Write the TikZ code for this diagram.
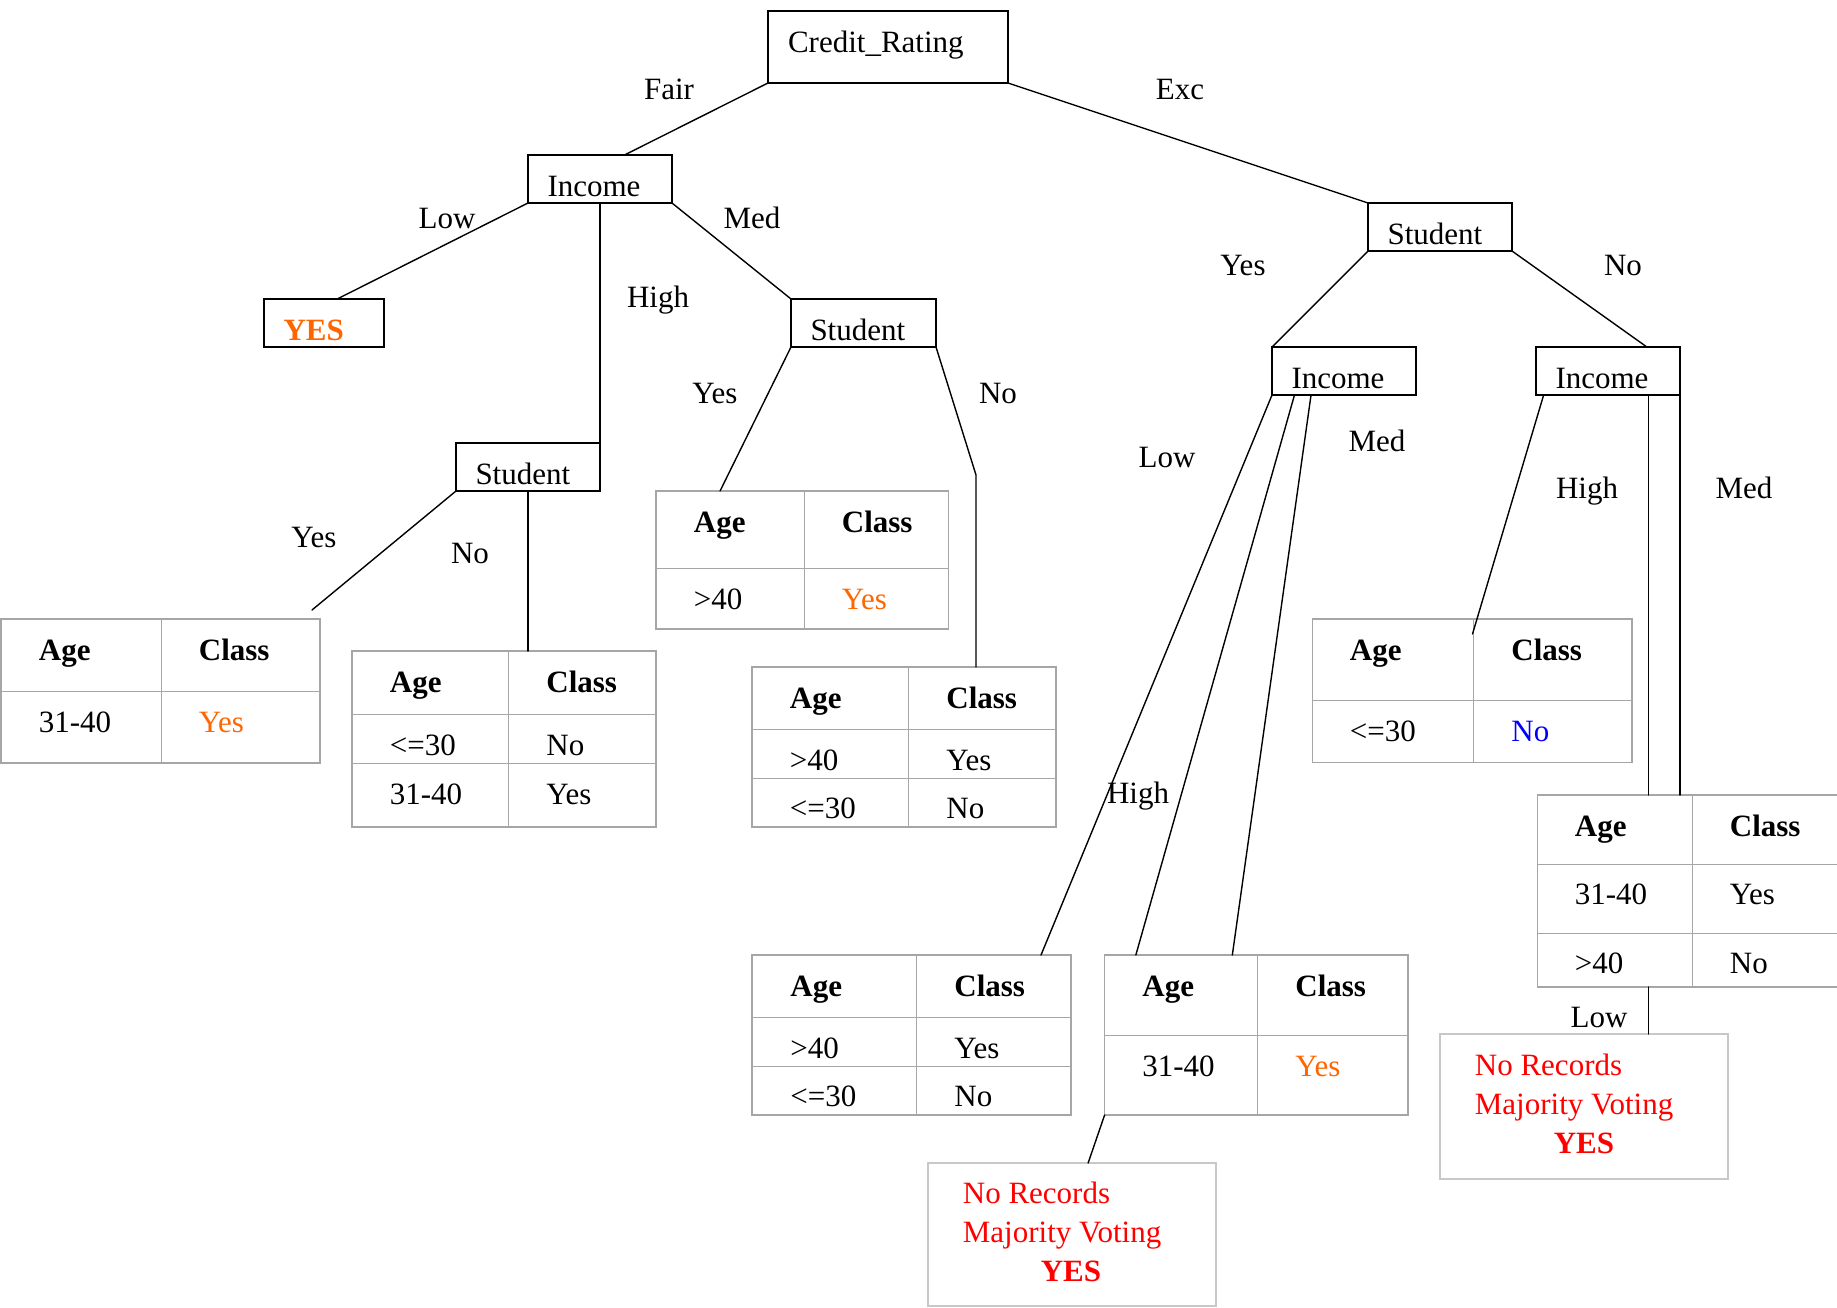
\documentclass[tikz,border=0pt]{standalone}
\usepackage{fontspec}
\setmainfont{Liberation Serif}
\usetikzlibrary{calc,fit}
\definecolor{orng}{RGB}{255,102,0}
\definecolor{tgray}{RGB}{166,166,166}
\definecolor{ngray}{RGB}{200,200,200}
\newcommand{\fsz}{\fontsize{15.5pt}{18pt}\selectfont}
\begin{document}
\begin{tikzpicture}[x=0.5pt,y=-0.5pt,
  every node/.style={font=\fsz},
  dbox/.style={draw, line width=0.9pt, inner xsep=9.75pt, inner ysep=0pt, outer sep=0pt,
    text height=20.5pt, text depth=3.5pt, text width=52.5pt, align=left, anchor=base west},
  edge/.style={line width=0.7pt, line cap=round},
  lbl/.style={anchor=base, inner sep=0pt},
  cell/.style={anchor=base west, inner sep=0pt},
  hcell/.style={cell, font=\fsz\bfseries},
  tbl/.style={draw=tgray, line width=0.75pt, inner sep=0pt, outer sep=0pt},
  tin/.style={draw=tgray, line width=0.45pt},
  nrbox/.style={draw=ngray, line width=0.6pt, inner sep=0pt, outer sep=0pt},
  nrtext/.style={anchor=base west, inner sep=0pt, text=red}]
\useasboundingbox (0,0) rectangle (1837,1307);
\fill[white] (0,0) rectangle (1837,1307);
\clip (0,0) rectangle (1837,1307);

% decision boxes
\node[dbox, text width=100pt, inner xsep=10pt, text depth=15.5pt] (cr) at (768,52) {Credit\_Rating};
\node[dbox] (inc1) at (528,196) {Income};
\node[dbox, text width=40.5pt, text=orng, font=\fsz\bfseries] (yes1) at (264,340) {YES};
\node[dbox] (stu1) at (456,484) {Student};
\node[dbox, text width=53pt] (stu2) at (791,340) {Student};
\node[dbox] (stu3) at (1368,244) {Student};
\node[dbox] (inc2) at (1272,388) {Income};
\node[dbox] (inc3) at (1536,388) {Income};

% table A
\node[tbl, fit={(1,619) (320,763)}] (tA) {};
\draw[tin] (161,619) -- (161,763) (1,691) -- (320,691);
\node[hcell] (tA1) at (38.5,660) {Age};
\node[hcell] (tA2) at (198.5,660) {Class};
\node[cell] (tA3) at (38.5,732) {31-40};
\node[cell, text=orng] (tA4) at (198.5,732) {Yes};

% table B
\node[tbl, fit={(352,651) (656,827)}] (tB) {};
\draw[tin] (508.5,651) -- (508.5,827) (352,714.3) -- (656,714.3) (352,763.3) -- (656,763.3);
\node[hcell] (tB1) at (389.5,692) {Age};
\node[hcell] (tB2) at (546,692) {Class};
\node[cell] (tB3) at (389.5,755.5) {<=30};
\node[cell] (tB4) at (546,755.5) {No};
\node[cell] (tB5) at (389.5,804) {31-40};
\node[cell] (tB6) at (546,804) {Yes};

% table C
\node[tbl, fit={(656,491) (948.5,629)}] (tC) {};
\draw[tin] (804,491) -- (804,629) (656,568) -- (948.5,568);
\node[hcell] (tC1) at (693.5,532) {Age};
\node[hcell] (tC2) at (841.5,532) {Class};
\node[cell] (tC3) at (693.5,609) {>40};
\node[cell, text=orng] (tC4) at (841.5,609) {Yes};

% table D
\node[tbl, fit={(752,667) (1056,827)}] (tD) {};
\draw[tin] (908.5,667) -- (908.5,827) (752,729.3) -- (1056,729.3) (752,778.3) -- (1056,778.3);
\node[hcell] (tD1) at (789.5,708) {Age};
\node[hcell] (tD2) at (946,708) {Class};
\node[cell] (tD3) at (789.5,770) {>40};
\node[cell] (tD4) at (946,770) {Yes};
\node[cell] (tD5) at (789.5,818.5) {<=30};
\node[cell] (tD6) at (946,818.5) {No};

% table E
\node[tbl, fit={(752,955) (1071,1115)}] (tE) {};
\draw[tin] (916.8,955) -- (916.8,1115) (752,1017.5) -- (1071,1017.5) (752,1066) -- (1071,1066);
\node[hcell] (tE1) at (790,996) {Age};
\node[hcell] (tE2) at (954,996) {Class};
\node[cell] (tE3) at (790,1058.5) {>40};
\node[cell] (tE4) at (954,1058.5) {Yes};
\node[cell] (tE5) at (790,1106.5) {<=30};
\node[cell] (tE6) at (954,1106.5) {No};

% table F
\node[tbl, fit={(1104.6,955) (1408,1115)}] (tF) {};
\draw[tin] (1257.7,955) -- (1257.7,1115) (1104.6,1035) -- (1408,1035);
\node[hcell] (tF1) at (1142,996) {Age};
\node[hcell] (tF2) at (1295,996) {Class};
\node[cell] (tF3) at (1142,1076) {31-40};
\node[cell, text=orng] (tF4) at (1295,1076) {Yes};

% table G
\node[tbl, fit={(1312.3,619) (1632,762.4)}] (tG) {};
\draw[tin] (1473.7,619) -- (1473.7,762.4) (1312.3,700) -- (1632,700);
\node[hcell] (tG1) at (1349.5,660.5) {Age};
\node[hcell] (tG2) at (1511,660.5) {Class};
\node[cell] (tG3) at (1349.5,741) {<=30};
\node[cell, text=blue] (tG4) at (1511,741) {No};

% table H
\node[tbl, fit={(1537.6,795) (1900,987)}] (tH) {};
\draw[tin] (1692,795) -- (1692,987) (1537.6,864.4) -- (1900,864.4) (1537.6,933.3) -- (1900,933.3);
\node[hcell] (tH1) at (1574.5,836) {Age};
\node[hcell] (tH2) at (1729.5,836) {Class};
\node[cell] (tH3) at (1574.5,904.5) {31-40};
\node[cell] (tH4) at (1729.5,904.5) {Yes};
\node[cell] (tH5) at (1574.5,973) {>40};
\node[cell] (tH6) at (1729.5,973) {No};

% no-record boxes
\node[nrbox, fit={(928,1163) (1216,1306)}] (nr1) {};
\node[nrtext] (nr1a) at (962.5,1203) {No Records};
\node[nrtext] (nr1b) at (962.5,1242) {Majority Voting};
\node[nrtext, anchor=base, font=\fsz\bfseries] (nr1c) at (1071,1281) {YES};
\node[nrbox, fit={(1440,1034) (1728,1179)}] (nr2) {};
\node[nrtext] (nr2a) at (1474.5,1075.5) {No Records};
\node[nrtext] (nr2b) at (1474.5,1114.5) {Majority Voting};
\node[nrtext, anchor=base, font=\fsz\bfseries] (nr2c) at (1584,1153) {YES};

% connectors
\draw[edge] (cr.south west) -- ($(inc1.north west)!0.67!(inc1.north east)$);
\draw[edge] (cr.south east) -- (stu3.north west);
\draw[edge] (inc1.south west) -- ($(yes1.north west)!0.61!(yes1.north east)$);
\draw[edge] (inc1.south) -- (stu1.north east);
\draw[edge] (inc1.south east) -- (stu2.north west);
\coordinate (e1) at ($(tA.north east)+(-8,-9)$);
\draw[edge] (stu1.south west) -- (e1);
\draw[edge] (stu1.south) -- (stu1.south |- tB.north);
\draw[edge] (stu2.south west) -- ($(tC.north west)!0.219!(tC.north east)$);
\coordinate (b1) at (976,475);
\draw[edge] (stu2.south east) -- (b1) -- (b1 |- tD.north);
\draw[edge] (stu3.south west) -- (inc2.north west);
\draw[edge] (stu3.south east) -- ($(inc3.north west)!0.77!(inc3.north east)$);
\draw[edge] (inc2.south west) -- ($(tE.north west)!0.906!(tE.north east)$);
\draw[edge] ($(inc2.south west)!0.156!(inc2.south east)$) -- ($(tF.north west)!0.103!(tF.north east)$);
\draw[edge] ($(inc2.south west)!0.271!(inc2.south east)$) -- ($(tF.north west)!0.421!(tF.north east)$);
\draw[edge] (tF.south west) -- ($(nr1.north west)!0.556!(nr1.north east)$);
\coordinate (g1) at (1472.5,634);
\draw[edge] ($(inc3.south west)!0.053!(inc3.south east)$) -- (g1);
\coordinate (h1) at ($(inc3.south west)!0.78!(inc3.south east)$);
\draw[edge] (h1) -- (h1 |- tH.north);
\draw[edge] (inc3.south east) -- (inc3.south east |- tH.north);
\draw[edge] (h1 |- tH.south) -- (h1 |- nr2.north);

% edge labels
\node[lbl] (lFair) at (669,99) {Fair};
\node[lbl] (lExc) at (1180,99) {Exc};
\node[lbl] (lLow1) at (447,228) {Low};
\node[lbl] (lMed1) at (752,228) {Med};
\node[lbl] (lHigh1) at (658,307) {High};
\node[lbl] (lYes2) at (715,403) {Yes};
\node[lbl] (lNo2) at (998,403) {No};
\node[lbl] (lYes1) at (314,547) {Yes};
\node[lbl] (lNo1) at (470,563) {No};
\node[lbl] (lYes3) at (1243,275) {Yes};
\node[lbl] (lNo3) at (1623,275) {No};
\node[lbl] (lLow2) at (1167,467) {Low};
\node[lbl] (lMed2) at (1377,451) {Med};
\node[lbl] (lHigh2) at (1138,803) {High};
\node[lbl] (lHigh3) at (1587,498) {High};
\node[lbl] (lMed3) at (1744,498) {Med};
\node[lbl] (lLow3) at (1599,1027) {Low};
\end{tikzpicture}
\end{document}
